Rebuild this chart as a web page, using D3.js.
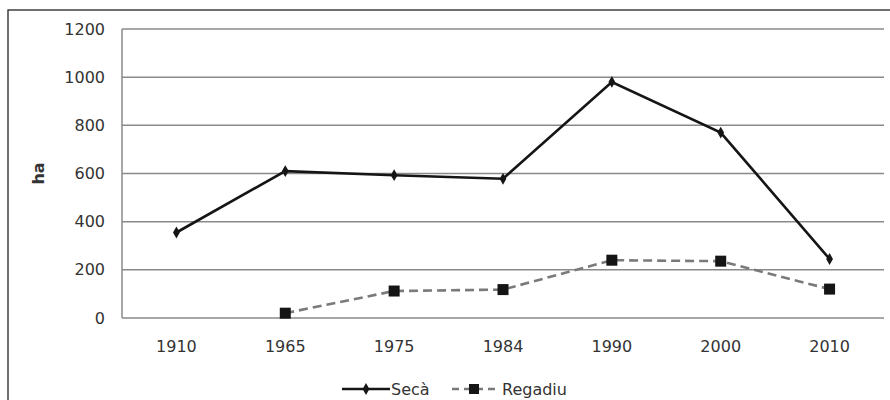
<!DOCTYPE html>
<html><head><meta charset="utf-8">
<script src="https://cdn.jsdelivr.net/npm/d3@7"></script>
<style>body{margin:0;background:#fff}svg{display:block}</style>
</head><body>
<svg id="c" width="890" height="400"></svg>
<script>
const years = ["1910","1965","1975","1984","1990","2000","2010"];
const seca = [355, 610, 593, 578, 980, 770, 245];
const regadiu = [null, 20, 112, 118, 240, 236, 120];
const yTicks = [0, 200, 400, 600, 800, 1000, 1200];
const legendLabels = ["Secà", "Regadiu"];

const svg = d3.select("#c");
const L = 122, R = 884, T = 29, B = 318;
const x = d3.scaleBand().domain(years).range([L, R]);
const y = d3.scaleLinear().domain([0, 1200]).range([B, T]);
const font = "'DejaVu Sans', sans-serif";
const fs = 16;

svg.append("rect").attr("x", 8).attr("y", 10).attr("width", 900).attr("height", 400)
  .attr("fill", "#fff").attr("stroke", "#222").attr("stroke-width", 1.3);

// gridlines
svg.append("g").selectAll("line").data(yTicks).join("line")
  .attr("x1", L).attr("x2", R).attr("y1", d => y(d)).attr("y2", d => y(d))
  .attr("stroke", "#8a8a8a").attr("stroke-width", 1.5);
svg.append("line").attr("x1", L).attr("x2", L).attr("y1", T).attr("y2", B)
  .attr("stroke", "#8a8a8a").attr("stroke-width", 1.5);

// y axis labels
const ya = svg.append("g").attr("transform", `translate(${L - 17},0)`)
  .call(d3.axisLeft(y).tickValues(yTicks).tickFormat(d3.format("d")).tickSize(0).tickPadding(0));
ya.select(".domain").remove();
ya.selectAll("text").attr("font-family", font).attr("font-size", fs).attr("fill", "#333");

// x axis labels
const xa = svg.append("g").attr("transform", `translate(0,${B + 23})`)
  .call(d3.axisBottom(x).tickSize(0).tickPadding(0));
xa.select(".domain").remove();
xa.selectAll("text").attr("font-family", font).attr("font-size", fs).attr("fill", "#333").attr("dy", "0.71em");

svg.append("text").attr("transform", `translate(44,${(T + B) / 2}) rotate(-90)`)
  .attr("text-anchor", "middle").attr("font-family", font).attr("font-size", fs)
  .attr("font-weight", "bold").attr("fill", "#333").text("ha");

const cx = d => x(d) + x.bandwidth() / 2;

// Regadiu
const regData = years.map((yr, i) => ({yr, v: regadiu[i]})).filter(d => d.v !== null);
svg.append("path").datum(regData)
  .attr("d", d3.line().x(d => cx(d.yr)).y(d => y(d.v)))
  .attr("fill", "none").attr("stroke", "#7a7a7a").attr("stroke-width", 2.6)
  .attr("stroke-dasharray", "9,5");
svg.append("g").selectAll("rect").data(regData).join("rect")
  .attr("x", d => cx(d.yr) - 5.5).attr("y", d => y(d.v) - 5.5)
  .attr("width", 11).attr("height", 11).attr("fill", "#151515");

// Secà
const secData = years.map((yr, i) => ({yr, v: seca[i]}));
svg.append("path").datum(secData)
  .attr("d", d3.line().x(d => cx(d.yr)).y(d => y(d.v)))
  .attr("fill", "none").attr("stroke", "#151515").attr("stroke-width", 2.6);
const diamond = d3.symbol().type(d3.symbolDiamond).size(40);
svg.append("g").selectAll("path").data(secData).join("path")
  .attr("transform", d => `translate(${cx(d.yr)},${y(d.v)})`)
  .attr("d", diamond).attr("fill", "#151515");

// legend
const lg = svg.append("g");
lg.append("line").attr("x1", 342).attr("x2", 390).attr("y1", 389).attr("y2", 389)
  .attr("stroke", "#151515").attr("stroke-width", 2.6);
lg.append("path").attr("transform", "translate(366,389)").attr("d", diamond).attr("fill", "#151515");
lg.append("text").attr("x", 391).attr("y", 395).attr("font-family", font).attr("font-size", fs)
  .attr("fill", "#333").text(legendLabels[0]);
lg.append("line").attr("x1", 452).attr("x2", 500).attr("y1", 389).attr("y2", 389)
  .attr("stroke", "#7a7a7a").attr("stroke-width", 2.6).attr("stroke-dasharray", "7,5");
lg.append("rect").attr("x", 469).attr("y", 384).attr("width", 10).attr("height", 10).attr("fill", "#151515");
lg.append("text").attr("x", 502).attr("y", 395).attr("font-family", font).attr("font-size", fs)
  .attr("fill", "#333").text(legendLabels[1]);
</script>
</body></html>
